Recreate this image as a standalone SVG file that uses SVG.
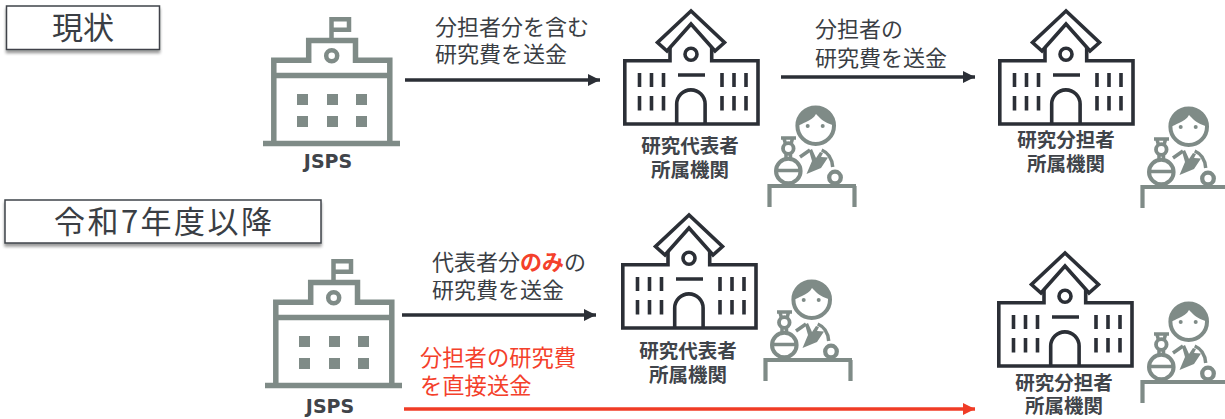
<svg xmlns="http://www.w3.org/2000/svg" width="1225" height="419" viewBox="0 0 1225 419">
<style>
text{font-family:"Noto Sans CJK JP","Noto Sans",sans-serif;fill:#3a3e44}
.lab{font-size:22px}
.red{fill:#f4402b}
.org{font-size:19.5px;font-weight:700;text-anchor:middle;fill:#40444a}
.jsps{font-family:"DejaVu Sans",sans-serif;font-size:19px;font-weight:700;text-anchor:middle;fill:#40444a}
.title{font-size:31px;text-anchor:middle}
.box{fill:#fff;stroke:#3f434a;stroke-width:1.5;filter:url(#sh)}
.g{fill:none;stroke:#7f8b87}
.d{fill:none;stroke:#2b2f36;stroke-width:3.6}
.arrow{fill:none;stroke:#2b2f36;stroke-width:3.6;marker-end:url(#ah)}
.arrowr{fill:none;stroke:#f03c26;stroke-width:3.6;marker-end:url(#ahr)}
</style>
<defs>
<filter id="sh" x="-5%" y="-20%" width="110%" height="150%"><feGaussianBlur in="SourceAlpha" stdDeviation="1.5"/><feOffset dy="2.5"/><feComponentTransfer><feFuncA type="linear" slope="0.4"/></feComponentTransfer><feMerge><feMergeNode/><feMergeNode in="SourceGraphic"/></feMerge></filter>
<marker id="ah" markerUnits="userSpaceOnUse" markerWidth="12" markerHeight="13" refX="12" refY="6.5" orient="auto"><path d="M0,0.5L12,6.5L0,12.5Z" fill="#2b2f36"/></marker>
<marker id="ahr" markerUnits="userSpaceOnUse" markerWidth="12" markerHeight="13" refX="12" refY="6.5" orient="auto"><path d="M0,0.5L12,6.5L0,12.5Z" fill="#f03c26"/></marker>
<g id="school">
<path class="g" stroke-width="5.5" d="M263,143.500H400M273.800,143V60.300H308.700V40.500H355.500V60.300H389.800V143M273.800,75.500H389.800"/>
<path class="g" stroke-width="4.500" d="M331.500,39V19.300H349V29.700H331.500"/>
<circle class="g" cx="331.700" cy="55.700" r="5.500" stroke-width="4.500"/>
<path fill="#7f8b87" d="M297,94h11v11h-11zM327,94h11v11h-11zM356,94h11v11h-11zM297,116h11v11h-11zM327,116h11v11h-11zM356,116h11v11h-11z"/>
</g>
<g id="univ">
<path class="d" d="M691,11L657.500,42.500L667,51L691,24L715,51L724.500,42.500Z"/>
<path class="d" d="M670,47V60.700H624.800V124H758V60.700H711.700V47"/>
<circle class="d" cx="691" cy="54.300" r="6"/>
<path class="d" d="M678,75H705M676.700,124V104A14.200,14.200 0 0 1 705.100,104V124"/>
<path class="d" d="M639.500,73V87M651.500,73V87M663.500,73V87M722,73V87M734,73V87M746,73V87M639.500,96V110.500M651.500,96V110.500M663.500,96V110.500M722,96V110.500M734,96V110.500M746,96V110.500"/>
</g>
<g id="person">
<circle class="g" cx="815.700" cy="125.700" r="18.300" stroke-width="4"/>
<path fill="#7f8b87" d="M796.500,126A19.300,19.300 0 0 1 835,126C830,124 824,122 821,119L816,114C814,118 810,120 806,122C803,123.500 800,125 796.500,126Z"/>
<circle cx="807.700" cy="126" r="2" fill="#7f8b87"/><circle cx="822.700" cy="126" r="2" fill="#7f8b87"/>
<path class="g" stroke-width="3.500" d="M800,157L810,150M821.700,150C829,153 832,158 832.700,167"/>
<path fill="#7f8b87" d="M809,150.500L812,149L816,158L820,152L823,153L821,157L828,157.500L821,168L806.500,174L812,161Z"/>
<circle class="g" cx="788.300" cy="171" r="12.300" stroke-width="4"/>
<path class="g" stroke-width="3.500" d="M776,170.500H800.500"/>
<circle class="g" cx="788.300" cy="148.500" r="5.300" stroke-width="3.800"/>
<path class="g" stroke-width="3.500" d="M781,138H796M784,138.500L785.500,144M792.500,138.500L791,144M786,153V159M790.500,153V159"/>
<circle class="g" cx="835" cy="177.500" r="5.800" stroke-width="4.300"/>
<path class="g" stroke-width="4.200" d="M769.500,207V186H856M854.500,186V207"/>
</g>
</defs>

<g id="title-now"><rect class="box" x="6.500" y="6" width="153" height="43.500"/><text class="title" x="83" y="39">現状</text></g>
<g id="title-r7"><rect class="box" x="5" y="200" width="316" height="43"/><text class="title" x="163" y="233" textLength="218" lengthAdjust="spacing">令和7年度以降</text></g>

<g id="jsps-top"><use href="#school"/><text class="jsps" x="328" y="168">JSPS</text></g>
<g id="rep-top"><use href="#univ"/><use href="#person"/><text class="org" x="690" y="153">研究代表者<tspan x="690" dy="24">所属機関</tspan></text></g>
<g id="share-top"><use href="#univ" x="375"/><use href="#person" x="373" y="1"/><text class="org" x="1066" y="147">研究分担者<tspan x="1066" dy="24">所属機関</tspan></text></g>

<g id="jsps-bottom"><use href="#school" x="2" y="242"/><text class="jsps" x="330" y="413">JSPS</text></g>
<g id="rep-bottom"><use href="#univ" x="-2" y="204"/><use href="#person" x="-4" y="174"/><text class="org" x="688" y="358">研究代表者<tspan x="688" dy="24">所属機関</tspan></text></g>
<g id="share-bottom"><use href="#univ" x="374" y="242"/><use href="#person" x="373" y="196"/><text class="org" x="1064" y="390">研究分担者<tspan x="1064" dy="23">所属機関</tspan></text></g>

<g id="connectors">
<path class="arrow" d="M405,80H600"/>
<path class="arrow" d="M781,77H975"/>
<path class="arrow" d="M402,315H596"/>
<path class="arrowr" d="M404,409H975"/>
</g>
<g id="labels">
<text class="lab" x="435" y="35">分担者分を含む<tspan x="435" dy="27">研究費を送金</tspan></text>
<text class="lab" x="815" y="37">分担者の<tspan x="815" dy="29">研究費を送金</tspan></text>
<text class="lab" x="432" y="270">代表者分<tspan class="red" font-weight="700">のみ</tspan>の<tspan x="432" dy="28">研究費を送金</tspan></text>
<text class="lab red" x="420" y="366" font-size="22.300" style="font-size:22.300px">分担者の研究費<tspan x="420" dy="28">を直接送金</tspan></text>
</g>
</svg>
